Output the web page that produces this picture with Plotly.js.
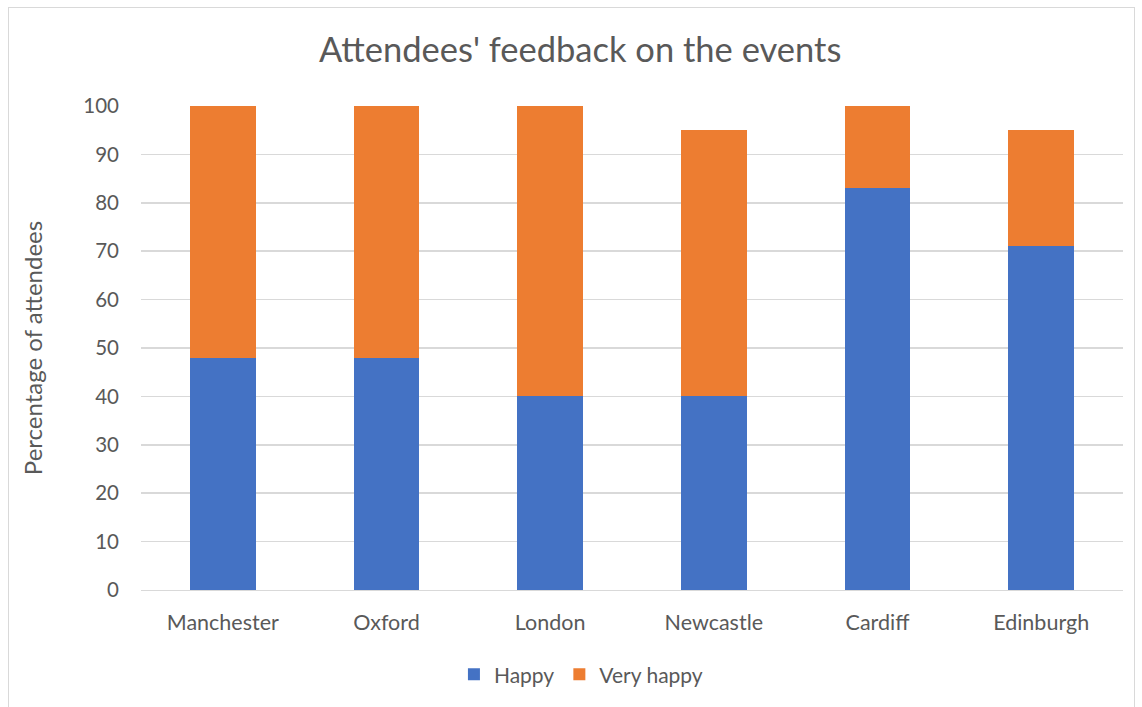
<!DOCTYPE html>
<html><head><meta charset="utf-8">
<script src="https://cdn.plot.ly/plotly-3.0.1.min.js"></script>
<style>
html,body{margin:0;padding:0;background:#fff;}
#frame{position:absolute;left:8px;top:7px;width:1127px;height:710px;border:1px solid #d9d9d9;box-sizing:border-box;}
#chart{position:absolute;left:0;top:0;width:1142px;height:707px;}
</style></head>
<body>
<div id="frame"></div>
<div id="chart"></div>
<script>
const categories = ["Manchester","Oxford","London","Newcastle","Cardiff","Edinburgh"];
const happy = [48,48,40,40,83,71];
const veryHappy = [52,52,60,55,17,24];
const yTicks = [0,10,20,30,40,50,60,70,80,90,100];

const font = "Lato, 'Open Sans', sans-serif";
const traces = [
  {type:"bar", name:"Happy", x:categories, y:happy, marker:{color:"#4472c4"}, hoverinfo:"none"},
  {type:"bar", name:"Very happy", x:categories, y:veryHappy, marker:{color:"#ed7d31"}, hoverinfo:"none"}
];
const layout = {
  width:1142, height:707,
  paper_bgcolor:"rgba(0,0,0,0)", plot_bgcolor:"rgba(0,0,0,0)",
  barmode:"stack", bargap:0.6,
  margin:{l:141,r:19,t:106,b:117},
  font:{family:font, color:"#595959", size:21},
  title:{text:"Attendees' feedback on the events", font:{size:34.5, color:"#595959", family:font}, x:0.508, xanchor:"center", y:0.93, yanchor:"middle"},
  xaxis:{showgrid:false, showline:true, linecolor:"#d9d9d9", linewidth:1, ticks:"", tickfont:{size:21.5}, ticklabelstandoff:13, fixedrange:true},
  yaxis:{range:[0,100], tickvals:yTicks, showgrid:true, gridcolor:"#d9d9d9", gridwidth:1.5, zeroline:false, showline:false, ticks:"", ticklabelstandoff:21, tickfont:{size:20.5},
         title:{text:"Percentage of attendees", font:{size:24, color:"#595959"}, standoff:33}, fixedrange:true},
  legend:{orientation:"h", x:0.448, xanchor:"center", y:-0.175, yanchor:"middle", font:{size:21}, itemwidth:20, traceorder:"normal"},
  showlegend:true
};
Plotly.newPlot("chart", traces, layout, {displayModeBar:false, staticPlot:true});
</script>
</body></html>
